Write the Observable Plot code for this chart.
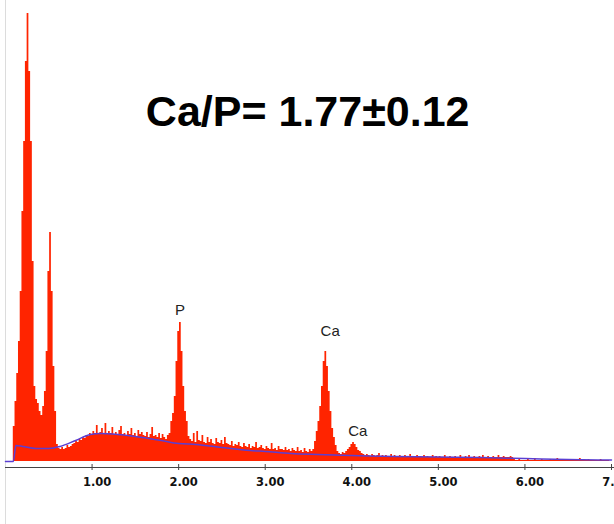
<!DOCTYPE html>
<html>
<head>
<meta charset="utf-8">
<script src="https://cdn.jsdelivr.net/npm/d3@7"></script>
<script src="https://cdn.jsdelivr.net/npm/@observablehq/plot@0.6"></script>
<style>
  html, body { margin: 0; padding: 0; background: #fff; }
  #chart svg { display: block; }
</style>
</head>
<body>
<div id="chart"></div>
<script>
// EDS spectrum: counts per 0.02 keV channel, channel 0 = 0.00 keV
const channelWidth = 0.02;
const counts = [
  0,0,0,0,0,35,60,88,120,170,
  250,320,400,448,390,320,200,75,62,58,
  50,46,55,70,110,190,229,170,95,50,
  17,13,12,14,12,13,16,14,15,17,
  18,20,19,22,21,24,23,26,25,28,
  27,30,28,36,27,29,33,28,38,27,
  30,28,34,27,29,26,31,35,27,28,
  26,30,27,33,26,28,25,31,27,29,
  26,25,29,24,27,34,25,26,24,28,
  23,27,24,22,26,28,40,48,65,100,
  130,139,110,75,50,40,25,22,20,28,
  19,30,21,20,26,19,18,24,19,22,
  18,17,23,19,18,21,17,24,18,17,
  16,20,15,17,16,19,15,14,18,15,
  14,17,13,15,14,19,13,14,16,13,
  12,15,13,12,18,12,13,11,15,12,
  12,11,14,11,12,10,13,11,10,14,
  10,11,9,13,10,9,12,10,12,20,
  30,40,55,75,100,110,95,70,50,33,
  24,16,10,8,7,9,8,10,12,14,
  17,19,17,14,11,10,8,7,6,7,
  6,5,7,6,5,6,8,5,6,5,
  6,5,5,7,5,6,5,5,6,5,
  5,6,4,5,7,5,4,5,6,4,
  5,4,6,4,5,4,4,6,4,5,
  4,5,4,4,6,4,4,5,4,4,
  5,4,4,6,4,4,5,4,6,4,
  4,5,4,4,5,4,6,4,4,5,
  4,4,5,4,4,6,4,4,5,4,
  4,4,5,4,3,1,1,2,1,1,
  1,1,2,1,1,1,3,1,1,1,
  2,1,1,1,1,2,1,1,1,3,
  1,1,1,2,1,1,1,1,2,1,
  1,1,3,1,1,1,1,2,1,1,
  1,1,1,1,2,1,1,1,1,1
];

// background (bremsstrahlung) fit
const bgEnergy = [0, 0.09, 0.12, 0.2, 0.35, 0.5, 0.63, 0.81, 0.98, 1.1, 1.3, 1.5, 1.8, 2.0, 2.2, 2.5, 2.83, 3.0, 3.3, 3.6, 4.0, 4.5, 5.0, 5.5, 6.0, 6.5, 7.0];
const bgCounts = [0, 0, 16, 15, 13, 13, 15, 21, 27, 28, 27, 25, 21, 18, 17, 14, 11, 10, 8, 7, 6, 5, 4.5, 4, 3, 2, 1.5];

// peak labels
const peakLabels = ["P", "Ca", "Ca"];
const peakEnergy = [2.015, 3.75, 4.07];
const peakLabelCounts = [151, 130, 30];

// axis ticks (keV)
const xTicks = [1, 2, 3, 4, 5, 6, 7];

const title = "Ca/P= 1.77±0.12";

const spectrum = counts.map((c, i) => ({e: i * channelWidth, c}));
const background = bgEnergy.map((e, i) => ({e, c: bgCounts[i]}));
const labels = peakLabels.map((t, i) => ({t, e: peakEnergy[i], c: peakLabelCounts[i]}));

const chart = Plot.plot({
  width: 614,
  height: 524,
  marginLeft: 5,
  marginRight: 3,
  marginTop: 6,
  marginBottom: 57,
  x: {domain: [0, 7], axis: null},
  y: {domain: [-6, 455], axis: null},
  style: {background: "#fff"},
  marks: [
    Plot.ruleX([0], {y1: -63, y2: 461, stroke: "#dcdcdc", strokeWidth: 1}),
    Plot.areaY(spectrum, {x: "e", y: "c", curve: "step", fill: "#ff2400"}),
    Plot.line(background, {x: "e", y: "c", curve: "monotone-x", stroke: "#5a3fd2", strokeWidth: 1.5}),
    Plot.ruleY([-6], {x1: 0, x2: 7.2, stroke: "#444", strokeWidth: 1}),
    Plot.ruleX(xTicks, {x: d => d, y1: -3, y2: -9, stroke: "#444", strokeWidth: 1}),
    Plot.text(xTicks, {x: d => d, y: -21, dx: 5, text: d => d3.format(".2f")(d),
      fontFamily: "DejaVu Sans", fontWeight: "bold", fontSize: 11.5, fill: "#111"}),
    Plot.text(labels, {x: "e", y: "c", text: "t", fontFamily: "Liberation Sans, Arial, sans-serif",
      fontSize: 15, fill: "#222"}),
    Plot.text([title], {x: 3.49, y: 349, text: d => d, fontFamily: "Liberation Sans, Arial, sans-serif",
      fontWeight: "bold", fontSize: 43, fill: "#000"})
  ]
});
document.getElementById("chart").appendChild(chart);
</script>
</body>
</html>
